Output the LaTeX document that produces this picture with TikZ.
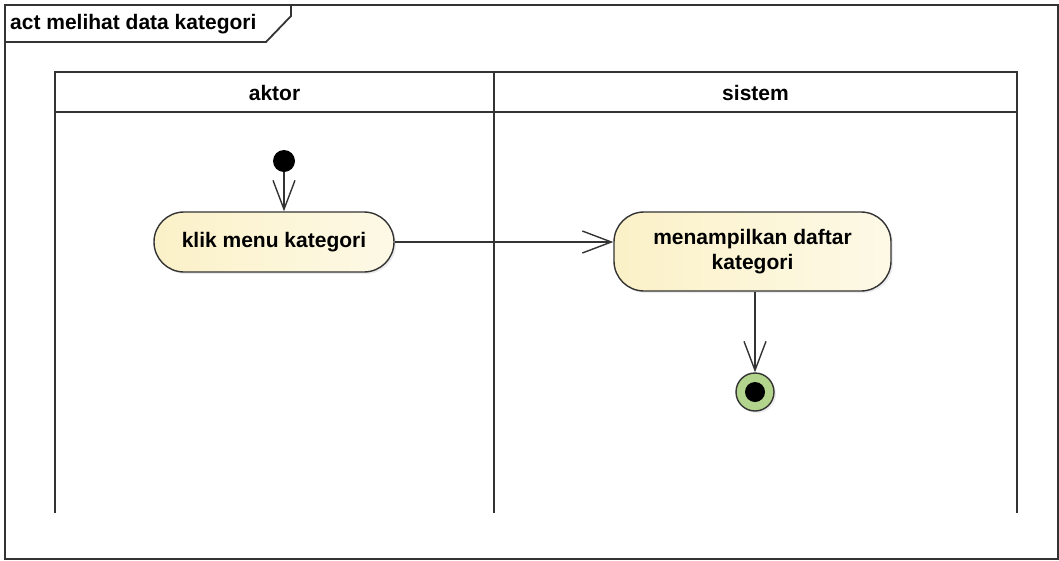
\documentclass[tikz,border=0pt]{standalone}
\usepackage{fontspec}
\setmainfont{Liberation Sans}
\usetikzlibrary{arrows.meta,shadows}
\definecolor{linec}{HTML}{333333}
\definecolor{actfill}{HTML}{FBF1C8}
\definecolor{actfill2}{HTML}{FDF9E6}
\definecolor{finalg}{HTML}{B3D48C}
\tikzset{
  frame/.style={draw=linec, line width=1.8pt},
  lane/.style={draw=linec, line width=1.8pt},
  label/.style={font=\bfseries\fontsize{21}{25}\selectfont},
  action/.style={label, draw=linec, line width=1.4pt, rounded corners=30pt,
    left color=actfill, right color=actfill2, align=center,
    drop shadow={shadow xshift=2pt, shadow yshift=-2pt, opacity=0.15}},
  flow/.style={draw=linec, line width=1.4pt, -{Straight Barb[length=29pt,width=22pt,line width=1.4pt]}},
}
\begin{document}
\begin{tikzpicture}[x=1pt,y=-1pt]
\useasboundingbox (0,0) rectangle (1059,560);
% outer activity frame and its name tab
\draw[frame] (5,5) rectangle (1058,559);
\draw[frame] (5,42) -- (266,42) -- (291,16) -- (291,5);
\node[label, anchor=west, inner sep=0pt] (title) at (10,24) {act melihat data kategori};
% swimlanes
\draw[lane] (55,513) -- (55,72) -- (1017,72) -- (1017,513);
\draw[lane] (55,112) -- (1017,112);
\draw[lane] (494,72) -- (494,513);
\node[label] (laneA) at (274.5,93) {aktor};
\node[label] (laneB) at (755.5,93) {sistem};
% initial node
\node[circle, fill=black, minimum size=22pt, inner sep=0pt] (start) at (284,161) {};
% actions
\node[action, minimum width=240pt, minimum height=60pt] (a1) at (274,242) {klik menu kategori};
\node[action, minimum width=277pt, minimum height=79pt] (a2) at (752.5,251.5) {menampilkan daftar\\kategori};
% final node
\node[circle, draw=linec, line width=1.4pt, fill=finalg, minimum size=38pt, inner sep=0pt,
  drop shadow={shadow xshift=2pt, shadow yshift=-2pt, opacity=0.15}] (final) at (755,392) {};
\node[circle, fill=black, minimum size=20pt, inner sep=0pt] (finaldot) at (final) {};
% control flows
\draw[flow] (start) -- (start |- a1.north);
\draw[flow] (a1.east) -- (a2.west |- a1.east);
\draw[flow] (final |- a2.south) -- (final.north);
\end{tikzpicture}
\end{document}
